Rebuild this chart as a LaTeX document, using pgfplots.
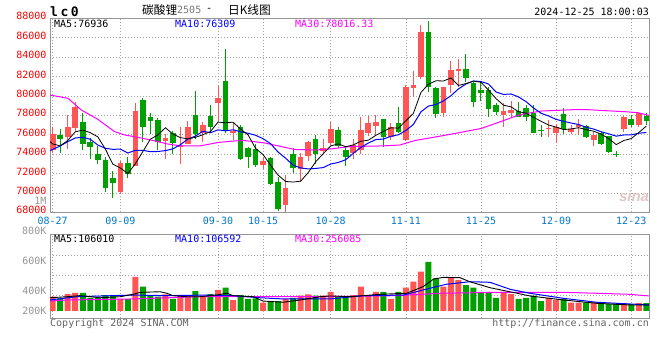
\documentclass[border=0pt]{standalone}
\usepackage{pgfplots}
\pgfplotsset{compat=1.18}
\usepackage{pgfplotstable}
\usepackage{fontspec}
\setmainfont{DejaVu Sans}
\newfontfamily\mono{DejaVu Sans Mono}
\newfontfamily\cjk{Noto Sans CJK SC}
\newfontfamily\sinafont{Liberation Sans}
\definecolor{kred}{RGB}{255,85,85}
\definecolor{kgreen}{RGB}{0,160,0}
\definecolor{ma10c}{RGB}{0,0,255}
\definecolor{ma30c}{RGB}{255,0,255}
\definecolor{gridc}{RGB}{165,165,165}
\definecolor{framec}{RGB}{150,150,150}
\definecolor{datec}{RGB}{0,119,204}
\definecolor{tickred}{RGB}{255,0,0}
\definecolor{volgray}{RGB}{150,150,150}
\definecolor{copyc}{RGB}{100,100,100}
\definecolor{titlegray}{RGB}{120,120,120}
\definecolor{sinac}{RGB}{222,200,200}

% candles: index open high low close volume(K, label scale)
\pgfplotstableread{
i o h l c v
0 74420 76830 74150 76070 362
2 75730 78030 74560 76790 380
3 76660 79370 76380 78860 387
9 70120 73290 69920 73050 347
11 72770 79270 72770 78440 495
15 75380 76070 73530 75660 378
17 74700 76790 73010 74970 369
18 75070 77410 75040 76790 369
20 76150 77310 75280 76970 362
22 79300 81020 77410 79780 407
24 76150 77310 75450 76380 340
28 72910 73730 72430 73290 322
31 68780 71850 68060 70510 347
33 72460 74150 71120 73730 369
34 73810 75300 73290 75250 378
36 74320 75530 74080 74630 369
37 75180 77310 74940 76590 395
40 74080 75560 73500 74940 373
41 74420 77830 74010 76490 429
42 76210 77930 75870 77180 369
43 76900 78030 75870 77310 395
45 75730 77180 75450 76760 347
47 75450 81090 75400 80950 422
48 80850 82600 79920 81120 462
49 81980 87310 81710 86620 529
52 78210 80950 77860 80890 429
53 81090 83630 80270 82670 491
54 82600 83770 80950 82770 473
60 78030 79270 76790 78470 395
61 78210 79470 77790 78550 380
66 76560 77520 75730 76660 355
67 76150 77100 75180 76830 340
69 76310 77000 76040 76560 322
70 76760 77590 75970 77000 322
72 75450 76310 74840 75970 325
76 76560 77900 76330 77860 320
78 76950 78270 76830 78210 320
}\redk
\pgfplotstableread{
i o h l c v
1 75940 76590 74110 75560 351
4 77280 78270 74450 75070 387
5 75250 75690 73530 74760 355
6 74010 74840 72950 73420 355
7 73390 73700 70120 70540 373
8 71570 72260 69500 71050 369
10 73050 73700 71570 71950 347
12 79580 79810 75280 76790 429
13 77830 78240 76100 77440 373
14 77520 77720 74420 75280 362
16 76180 76380 74010 75150 347
19 78030 80510 75590 76100 400
21 77930 79060 76210 76830 380
23 81540 84840 76210 76490 422
25 76790 76970 73400 73500 373
26 74660 74760 72600 73730 347
27 74560 75010 72700 72850 351
29 73600 73650 70780 70890 333
30 71120 71610 68170 68370 333
32 74010 74660 72050 72570 355
35 75530 75940 72950 74010 369
38 76490 76830 74660 74840 362
39 74450 74840 72770 73730 362
44 77590 77620 74760 75790 395
46 77180 78890 76150 76310 395
50 86620 87720 80430 80950 595
51 80780 80950 77750 78130 485
55 82770 84320 81460 81880 440
56 81300 81460 78890 79400 422
57 80610 81430 79510 80330 395
58 80610 80950 77860 78620 395
59 79060 79240 78030 78370 355
62 78440 79400 77790 77860 347
63 78720 79060 77440 77860 355
64 78210 79060 76150 76210 369
65 76490 77000 75730 76410 333
68 78130 78720 76070 76560 347
71 76900 77000 75690 75730 325
73 76150 76310 74940 75040 318
74 75870 75900 74080 74190 313
75 74010 74350 73670 73960 313
77 77620 78060 76790 76950 313
79 77930 78190 76950 77440 320
}\greenk

\begin{document}
\begin{tikzpicture}
\fill[white] (0pt,0pt) rectangle (660pt,360pt);
\useasboundingbox (0pt,0pt) rectangle (660pt,360pt);

\pgfplotsset{
  sinagrid/.style={draw=gridc, line width=0.7pt, dash pattern=on 1.4pt off 1.6pt},
  monolab/.style={font=\mono\fontsize{10}{12}\selectfont},
  candle/.style 2 args={draw=none, mark=none, mark size=0pt, forget plot,
    error bars/.cd, y dir=minus, y explicit, error mark=none,
    error bar style={draw=#1, solid, line width=#2}},
}

% ---------------- price panel ----------------
\begin{axis}[
  at={(50pt,147.7pt)}, anchor=south west, scale only axis,
  width=599pt, height=194pt,
  xmin=-0.36, xmax=79.36, ymin=68000, ymax=88000,
  xtick={0,9,22,28,37,47,57,67,77},
  xticklabels={08-27,09-09,09-30,10-15,10-28,11-11,11-25,12-09,12-23},
  ytick={68000,70000,72000,74000,76000,78000,80000,82000,84000,86000,88000},
  scaled y ticks=false,
  /pgf/number format/1000 sep={},
  /pgf/number format/assume math mode=true,
  yticklabel style={monolab, text=tickred, yshift=2pt},
  xticklabel style={monolab, text=datec, yshift=-1pt},
  grid=major, major grid style={sinagrid},
  tick style={draw=none},
  axis line style={draw=framec, line width=0.9pt},
]
% wicks
\addplot[candle={kred}{1pt}]
  table[x=i, y=h, y error minus expr={\thisrow{h}-\thisrow{l}}]{\redk};
\addplot[candle={kgreen}{1pt}]
  table[x=i, y=h, y error minus expr={\thisrow{h}-\thisrow{l}}]{\greenk};
% bodies
\addplot[candle={kred}{5.6pt}]
  table[x=i, y=c, y error minus expr={\thisrow{c}-\thisrow{o}}]{\redk};
\addplot[candle={kgreen}{5.6pt}]
  table[x=i, y=o, y error minus expr={\thisrow{o}-\thisrow{c}}]{\greenk};
% MA30
\addplot[ma30c, line width=1pt, mark=none] coordinates {
(-0.36,80090)(2.04,79750)(3.8,78550)(6.0,77590)(8.25,76310)(9.6,75970)(10.9,75790)(13.1,75450)(15.3,75040)(17.1,74840)(19.6,74840)(22,75200)(24.1,75350)(25.4,75400)(26.4,75320)(28.2,75150)(30.4,74780)(32.2,74480)(34.9,74420)(37,74530)(39.6,74780)(43.7,74840)(46.2,74940)(48.2,75400)(50.9,75760)(53.9,76180)(57,76640)(59.3,77260)(61.5,77880)(62.6,78130)(65,78440)(68.4,78550)(69.9,78600)(71.5,78570)(73.5,78480)(76.2,78370)(77.9,78270)(79.36,77980)};
% MA10
\addplot[ma10c, line width=1pt, mark=none] coordinates {
(-0.36,74350)(0,74490)(1,74840)(2,75280)(3,75660)(4,75730)(5,75530)(6,74940)(7,74600)(8,74490)(9,74520)(10,74110)(11,74390)(12,74390)(13,74250)(14,74270)(15,74360)(16,74540)(17,74980)(18,75550)(19,75860)(20,76360)(21,76200)(22,76500)(23,76400)(24,76510)(25,76300)(26,76150)(27,75940)(28,75590)(29,75070)(30,74210)(31,73580)(32,72860)(33,72580)(34,72470)(35,72520)(36,72610)(37,72980)(38,73140)(39,73420)(40,74080)(41,74680)(42,75140)(43,75500)(44,75550)(45,75830)(46,75990)(47,76430)(48,77060)(49,78350)(50,78950)(51,79110)(52,79480)(53,80020)(54,80720)(55,81230)(56,81540)(57,81480)(58,81230)(59,80400)(60,80150)(61,80200)(62,79890)(63,79410)(64,78750)(65,78210)(66,77930)(67,77580)(68,77380)(69,77200)(70,77050)(71,76770)(72,76580)(73,76300)(74,76090)(75,75850)(76,75970)(77,75980)(78,76150)(79,76230)};
% MA5
\addplot[black, line width=0.8pt, mark=none] coordinates {
(-0.36,75280)(0,75050)(1,74850)(2,75400)(3,76300)(4,76470)(5,76210)(6,75780)(7,74530)(8,72970)(9,72570)(10,72000)(11,73010)(12,74260)(13,75540)(14,75980)(15,76720)(16,76060)(17,75700)(18,75570)(19,75730)(20,76000)(21,76330)(22,77300)(23,77230)(24,77290)(25,76590)(26,75980)(27,74590)(28,73950)(29,72850)(30,71830)(31,71180)(32,71120)(33,71210)(34,72090)(35,73210)(36,74040)(37,74840)(38,75060)(39,74760)(40,74950)(41,75320)(42,75430)(43,75930)(44,76340)(45,76710)(46,76670)(47,77430)(48,78190)(49,80350)(50,81190)(51,81560)(52,81540)(53,81850)(54,81080)(55,81270)(56,81520)(57,81410)(58,80600)(59,79720)(60,79040)(61,78870)(62,78370)(63,78220)(64,77790)(65,77380)(66,77000)(67,76790)(68,76530)(69,76600)(70,76720)(71,76530)(72,76360)(73,76060)(74,75590)(75,74980)(76,75400)(77,75600)(78,76230)(79,76880)};
\end{axis}

% ---------------- volume panel ----------------
\begin{axis}[
  at={(50pt,42pt)}, anchor=south west, scale only axis,
  width=599pt, height=84pt,
  xmin=-0.36, xmax=79.36, ymin=-47, ymax=513,
  xtick={0,9,22,28,37,47,57,67,77}, xticklabels={},
  xmajorgrids=true, ymajorgrids=false,
  ytick={0,133,333}, yticklabels={200K,400K,600K},
  yticklabel style={monolab, text=volgray},
  extra y ticks={102,238,373}, extra y tick labels={},
  extra y tick style={ymajorgrids=true},
  major grid style={sinagrid},
  tick style={draw=none},
  axis line style={draw=framec, line width=0.9pt},
]
\addplot[ybar, bar width=6pt, bar shift=0pt, fill=kred, draw=none, forget plot]
  table[x=i, y expr=\thisrow{v}-267]{\redk};
\addplot[ybar, bar width=6pt, bar shift=0pt, fill=kgreen, draw=none, forget plot]
  table[x=i, y expr=\thisrow{v}-267]{\greenk};
% volume MA30
\addplot[ma30c, line width=1pt, mark=none] table[x=i, y expr=\thisrow{v}-267]{
i v
-0.36 333
1.9 340
10.7 347
19.6 362
28.5 362
36.9 363
45.8 369
51.5 385
59.1 391
68.0 391
72.4 385
76.8 378
79.36 367
};
% volume MA10
\addplot[ma10c, line width=1pt, mark=none] table[x=i, y expr=\thisrow{v}-267]{
i v
-0.36 340
3.2 362
10.7 373
15.2 369
20.5 373
24.0 369
27.6 355
30.7 347
36.9 347
41.3 369
46.7 373
49.3 407
52.4 445
55.5 462
58.2 458
60.9 411
63.5 385
68.0 351
72.4 325
79.36 307
};
% volume MA5
\addplot[black, line width=0.9pt, mark=none] table[x=i, y expr=\thisrow{v}-267]{
i v
-0.36 355
1.9 362
3.6 369
6.3 355
9.0 362
10.7 378
11.6 391
14.3 395
15.2 385
16.0 369
17.8 362
19.6 362
21.8 373
23.2 385
24.0 369
26.7 362
28.0 333
30.7 325
32.9 340
35.6 362
36.9 367
39.6 362
43.6 378
47.1 385
49.3 429
50.7 480
52.0 491
54.2 489
55.5 462
58.2 422
61.8 385
63.5 367
68.0 340
72.4 318
76.8 307
79.36 307
};
\end{axis}

% ---------------- texts ----------------
\node[anchor=west, inner sep=0pt] at (50pt,348.5pt) {\mono\bfseries\fontsize{13}{15}\selectfont l\hspace{2.5pt}c\hspace{2.5pt}0};
\node[anchor=west, inner sep=0pt] at (142pt,350pt) {\cjk\fontsize{11.7}{13}\selectfont 碳酸锂};
\node[anchor=west, inner sep=0pt, text=titlegray] at (177pt,350pt) {\mono\fontsize{10}{12}\selectfont 2505};
\node[anchor=west, inner sep=0pt] at (206pt,350pt) {\mono\fontsize{10}{12}\selectfont -};
\node[anchor=west, inner sep=0pt] at (228pt,350pt) {\cjk\fontsize{11.7}{13}\selectfont 日K线图};
\node[anchor=east, inner sep=0pt] at (649pt,348pt) {\mono\fontsize{10}{12}\selectfont 2024-12-25 18:00:03};

\node[anchor=west, inner sep=0pt] at (54pt,336.5pt) {\mono\fontsize{10}{12}\selectfont MA5:76936};
\node[anchor=west, inner sep=0pt, text=ma10c] at (175pt,336.5pt) {\mono\fontsize{10}{12}\selectfont MA10:76309};
\node[anchor=west, inner sep=0pt, text=ma30c] at (295pt,336.5pt) {\mono\fontsize{10}{12}\selectfont MA30:78016.33};

\node[anchor=west, inner sep=0pt] at (54pt,121.2pt) {\mono\fontsize{10}{12}\selectfont MA5:106010};
\node[anchor=west, inner sep=0pt, text=ma10c] at (175pt,121.2pt) {\mono\fontsize{10}{12}\selectfont MA10:106592};
\node[anchor=west, inner sep=0pt, text=ma30c] at (295pt,121.2pt) {\mono\fontsize{10}{12}\selectfont MA30:256085};

\node[anchor=east, inner sep=0pt, text=volgray] at (46.5pt,129pt) {\mono\fontsize{10}{12}\selectfont 800K};
\node[anchor=east, inner sep=0pt, text=volgray] at (46.5pt,159.5pt) {\mono\fontsize{10}{12}\selectfont 1M};

\node[anchor=west, inner sep=0pt, text=copyc] at (50pt,36pt) {\mono\fontsize{10}{12}\selectfont Copyright 2024 SINA.COM};
\node[anchor=east, inner sep=0pt, text=copyc] at (649pt,36pt) {\mono\fontsize{10}{12}\selectfont http://finance.sina.com.cn};

\node[inner sep=0pt, text=sinac] at (634pt,164pt) {\sinafont\bfseries\itshape\fontsize{15}{15}\selectfont sina};
\end{tikzpicture}
\end{document}
